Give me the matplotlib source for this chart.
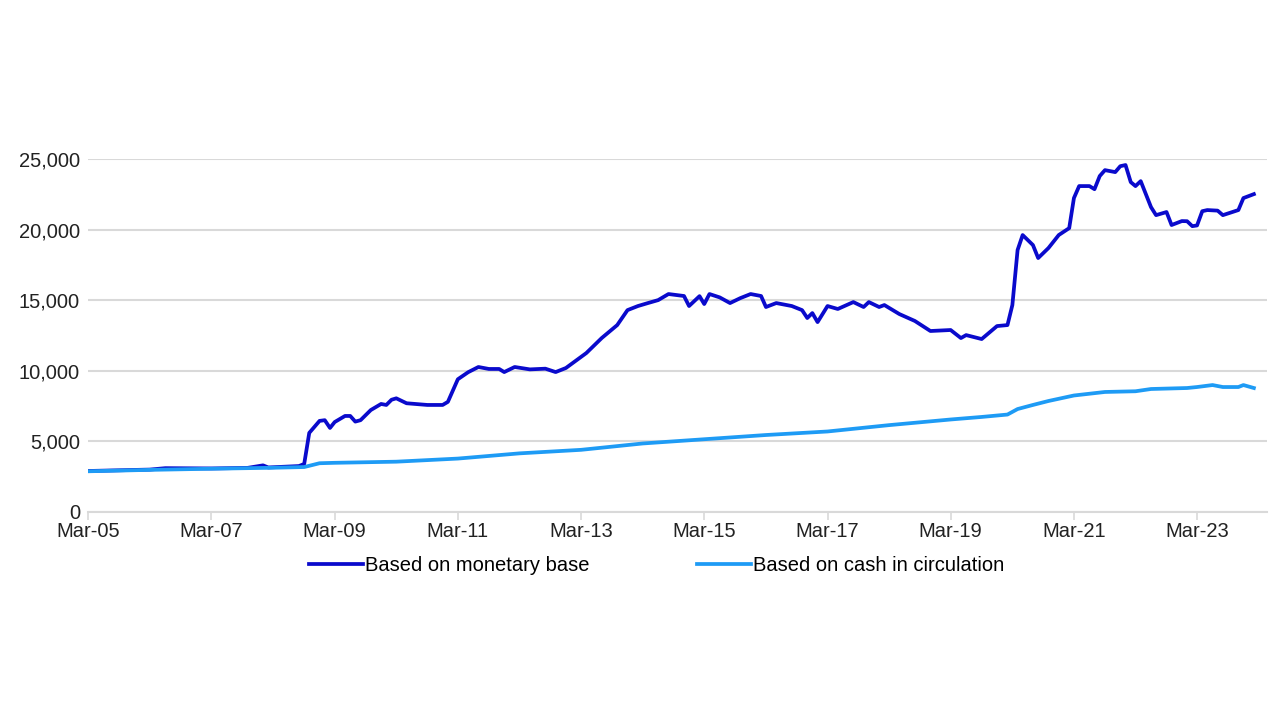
import matplotlib.dates as mdates
import matplotlib.pyplot as plt
import matplotlib.ticker as mticker
import pandas as pd

plt.rcParams["font.family"] = ["Liberation Sans", "DejaVu Sans"]

base_dates = [
    "2005-03", "2006-03", "2006-06", "2007-03", "2007-10", "2008-01", "2008-02",
    "2008-08", "2008-09", "2008-10", "2008-12", "2009-01", "2009-02", "2009-03",
    "2009-05", "2009-06", "2009-07", "2009-08", "2009-10", "2009-12", "2010-01",
    "2010-02", "2010-03", "2010-05", "2010-09", "2010-12", "2011-01", "2011-03",
    "2011-05", "2011-07", "2011-09", "2011-11", "2011-12", "2012-02", "2012-05",
    "2012-08", "2012-10", "2012-12", "2013-04", "2013-07", "2013-10", "2013-12",
    "2014-02", "2014-04", "2014-06", "2014-08", "2014-11", "2014-12", "2015-02",
    "2015-03", "2015-04", "2015-06", "2015-08", "2015-10", "2015-12", "2016-02",
    "2016-03", "2016-05", "2016-08", "2016-10", "2016-11", "2016-12", "2017-01",
    "2017-03", "2017-05", "2017-08", "2017-10", "2017-11", "2018-01", "2018-02",
    "2018-05", "2018-08", "2018-11", "2019-03", "2019-05", "2019-06", "2019-09",
    "2019-12", "2020-02", "2020-03", "2020-04", "2020-05", "2020-07", "2020-08",
    "2020-10", "2020-12", "2021-02", "2021-03", "2021-04", "2021-06", "2021-07",
    "2021-08", "2021-09", "2021-11", "2021-12", "2022-01", "2022-02", "2022-03",
    "2022-04", "2022-06", "2022-07", "2022-09", "2022-10", "2022-12", "2023-01",
    "2023-02", "2023-03", "2023-04", "2023-05", "2023-07", "2023-08", "2023-11",
    "2023-12", "2024-02",
]
base_values = [
    2900, 3000, 3100, 3080, 3120, 3300, 3150,
    3250, 3400, 5600, 6450, 6500, 5950, 6370,
    6800, 6800, 6400, 6500, 7220, 7650, 7580,
    7950, 8050, 7700, 7580, 7580, 7800, 9400,
    9900, 10270, 10130, 10130, 9910, 10270, 10100,
    10150, 9910, 10200, 11260, 12320, 13240, 14300,
    14590, 14800, 15010, 15440, 15300, 14590, 15290,
    14730, 15440, 15200, 14800, 15150, 15440, 15300,
    14520, 14800, 14590, 14300, 13740, 14090, 13450,
    14590, 14380, 14870, 14520, 14870, 14520, 14660,
    14020, 13530, 12820, 12890, 12320, 12530, 12250,
    13170, 13240, 14660, 18560, 19620, 18910, 17990,
    18700, 19620, 20110, 22240, 23090, 23090, 22870,
    23800, 24220, 24080, 24500, 24580, 23370, 23090,
    23440, 21600, 21030, 21250, 20330, 20610, 20600,
    20250, 20300, 21310, 21390, 21350, 21030, 21390,
    22240, 22520,
]

cash_dates = [
    "2005-03", "2006-03", "2007-03", "2008-03", "2008-09", "2008-12", "2009-03",
    "2010-03", "2011-03", "2012-03", "2013-03", "2014-03", "2015-03", "2016-03",
    "2017-03", "2018-03", "2019-03", "2019-09", "2020-02", "2020-04", "2020-07",
    "2020-10", "2021-03", "2021-09", "2022-03", "2022-06", "2023-01", "2023-03",
    "2023-06", "2023-08", "2023-11", "2023-12", "2024-02",
]
cash_values = [
    2880, 2980, 3060, 3130, 3180, 3450, 3480,
    3560, 3780, 4150, 4400, 4850, 5150, 5450,
    5700, 6150, 6550, 6730, 6900, 7290, 7580,
    7860, 8250, 8500, 8550, 8710, 8780, 8850,
    8990, 8850, 8850, 8990, 8780,
]

tick_dates = ["2005-03", "2007-03", "2009-03", "2011-03", "2013-03",
              "2015-03", "2017-03", "2019-03", "2021-03", "2023-03"]

base = pd.Series(base_values, index=pd.to_datetime(base_dates))
cash = pd.Series(cash_values, index=pd.to_datetime(cash_dates))

fig = plt.figure(figsize=(12.8, 7.2), dpi=100)
ax = fig.add_axes([0.069, 0.289, 0.921, 0.49])

ax.plot(base.index, base.values, color="#0A0ACC", lw=2.7,
        label="Based on monetary base")
ax.plot(cash.index, cash.values, color="#1E9BF5", lw=2.7,
        label="Based on cash in circulation")

ax.set_ylim(0, 25000)
ax.set_xlim(pd.Timestamp("2005-03-01"), pd.Timestamp("2024-04-20"))
ax.set_yticks(range(0, 25001, 5000))
ax.yaxis.set_major_formatter(mticker.FuncFormatter(lambda v, p: f"{int(v):,}"))
ax.set_xticks(pd.to_datetime(tick_dates))
ax.xaxis.set_major_formatter(mdates.DateFormatter("%b-%y"))

ax.grid(axis="y", color="#D9D9D9", lw=1.5)
ax.set_axisbelow(True)
for side in ["top", "right", "left"]:
    ax.spines[side].set_visible(False)
ax.spines["bottom"].set_color("#D9D9D9")
ax.spines["bottom"].set_linewidth(1.5)
ax.tick_params(axis="y", length=0, pad=6, labelsize=14.5, labelcolor="#222222")
ax.tick_params(axis="x", length=6, width=1.2, color="#D9D9D9", pad=1,
               labelsize=14.5, labelcolor="#222222")

ax.legend(loc="center", bbox_to_anchor=(0.482, -0.153), ncol=2, frameon=False,
          fontsize=14.5, handlelength=2.7, handletextpad=0.1,
          columnspacing=5.3)

fig.savefig("out.png", dpi=100, facecolor="white")
